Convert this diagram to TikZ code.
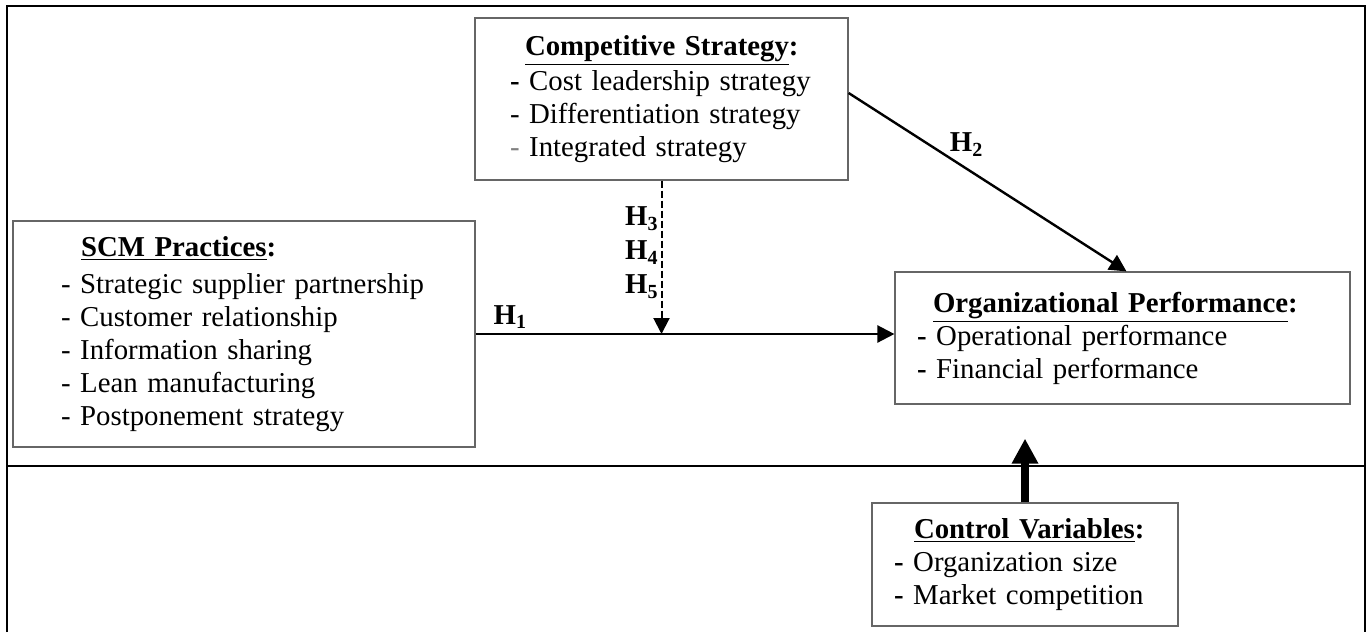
\documentclass[tikz,border=0pt]{standalone}
\usepackage{fontspec}
\setmainfont{Liberation Serif}
\usetikzlibrary{arrows, arrows.meta, calc}

\begin{document}
\begin{tikzpicture}
    \tikzstyle{block} = [rectangle, draw=black!60, line width=0.6pt, align=left, inner ysep=2pt, font=\fontsize{14.4}{16.5}\selectfont]
    \tikzstyle{frame} = [line width=1pt]
    \tikzstyle{arrow} = [line width=1.2pt,->,>={Triangle[length=8.5pt,width=8.5pt]}]
    \tikzstyle{dasharrow} = [line width=1pt,->,>={Triangle[length=8pt,width=8pt]}, dash pattern=on 3.5pt off 1.5pt]
    \tikzstyle{bigarrow} = [line width=4pt,->,>={Triangle[length=12.5pt,width=12.5pt]}]
    \tikzstyle{hyp} = [font=\bfseries\fontsize{14.4}{17}\selectfont]

    \useasboundingbox (0,0) rectangle (684pt,-316pt);

    % outer frame and divider
    \draw [frame] (3.5pt,-316pt) -- (3.5pt,-3pt) -- (682.5pt,-3pt) -- (682.5pt,-316pt);
    \draw [frame] (3.5pt,-233pt) -- (682.5pt,-233pt);

    \node (comp) [block, minimum width=186.5pt, minimum height=81pt, text width=151.5pt, inner xsep=17.5pt] at (330.75pt,-49.5pt) {\hspace*{7.5pt}\textbf{\underline{Competitive Strategy}:}\\[1pt] \textbf{-} Cost leadership strategy\\ - Differentiation strategy\\ \textcolor{gray}{-} Integrated strategy};
    \node (scm) [block, below of=comp, xshift=-208.75pt, yshift=-89.05pt, minimum width=231pt, minimum height=113pt, text width=183pt, inner xsep=24pt] {\hspace*{10pt}\textbf{\underline{SCM Practices}:}\\[2pt] - Strategic supplier partnership\\ - Customer relationship\\ - Information sharing\\ - Lean manufacturing\\ - Postponement strategy};
    \node (org) [block, right of=scm, xshift=410.8pt, yshift=-2pt, minimum width=227.5pt, minimum height=66pt, text width=205.5pt, inner xsep=11pt] {\hspace*{8pt}\textbf{\underline{Organizational Performance}:}\\ \textbf{-} Operational performance\\ \textbf{-} Financial performance};
    \node (ctrl) [block, below of=org, xshift=-48.75pt, yshift=-84.8pt, minimum width=153pt, minimum height=61.5pt, text width=131pt, inner xsep=11pt] {\hspace*{10pt}\textbf{\underline{Control Variables}:}\\ \textbf{-} Organization size\\ \textbf{-} Market competition};

    \coordinate (join) at (comp.south |- scm.east);

    \draw [arrow] (scm.east) -- node[hyp, pos=0.083, above, inner sep=2pt] {H\textsubscript{1}} (scm.east -| org.west);
    \draw [dasharrow] (comp.south) -- node[hyp, pos=0.47, left, align=right, inner sep=1pt] {H\textsubscript{3}\\H\textsubscript{4}\\H\textsubscript{5}} (join);
    \draw [arrow] ([yshift=3pt]comp.east) -- node[hyp, pos=0.36, above right, inner sep=0pt] {H\textsubscript{2}} ([xshift=2pt]org.north);
    \draw [bigarrow, shorten >=17pt] (ctrl.north) -- (ctrl.north |- org.south);
  \end{tikzpicture}
\end{document}
